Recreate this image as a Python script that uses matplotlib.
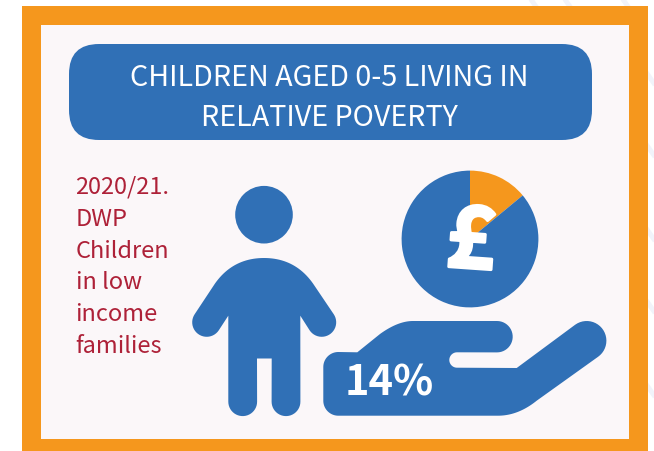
import numpy as np
import matplotlib
matplotlib.use("Agg")
import matplotlib.pyplot as plt
import matplotlib.patheffects as pe
from matplotlib.patches import Rectangle, FancyBboxPatch, Circle, Polygon

BLUE = '#3070b6'
ORANGE = '#f5971d'
RED = '#ae2138'
PAPER = '#fbf7f9'
FAINT = '#f1f3fa'
FONT = ['Noto Sans CJK SC', 'DejaVu Sans']

title_lines = ["CHILDREN AGED 0-5 LIVING IN", "RELATIVE POVERTY"]
source_lines = ["2020/21.", "DWP", "Children", "in low", "income", "families"]
poverty_pct = 14
other_pct = 100 - poverty_pct


def arc(cx, cy, r, a0, a1, n=24):
    # angles in degrees, measured clockwise on screen because y runs down
    t = np.radians(np.linspace(a0, a1, n))
    return np.column_stack([cx + r*np.cos(t), cy + r*np.sin(t)])


def bez(p0, p1, p2, n=24):
    t = np.linspace(0, 1, n)[:, None]
    return (1-t)**2*np.array(p0) + 2*t*(1-t)*np.array(p1) + t**2*np.array(p2)


def outline(*parts):
    return np.vstack([np.atleast_2d(p) for p in parts])


fig = plt.figure(figsize=(6.54, 4.51), dpi=100, facecolor='white')
ax = fig.add_axes([0, 0, 1, 1])

# pale diagonal strokes of the page behind the frame
for x0, y0 in [(530, -2), (564, -2), (622, -2), (646, 72), (646, 144), (646, 228), (646, 300), (646, 384)]:
    ax.plot([x0, x0 + 14], [y0, y0 + 20], color=FAINT, lw=3.5, solid_capstyle='butt', zorder=0)

# orange frame and inner panel
ax.add_patch(Rectangle((22, 6), 626, 445, fc=ORANGE, ec='none', zorder=1))
ax.add_patch(Rectangle((40.5, 25), 588.5, 413.5, fc=PAPER, ec='none', zorder=1))

# heading
ax.add_patch(FancyBboxPatch((99, 74), 463, 36, boxstyle='round,pad=30,rounding_size=30',
                            fc=BLUE, ec='none'))
for txt, y in zip(title_lines, (74, 115)):
    ax.text(329, y, txt, color='white', fontsize=20.7, family=FONT,
            ha='center', va='center_baseline')

for i, txt in enumerate(source_lines):
    ax.text(75.5, 185 + i*31.8, txt, color=RED, fontsize=17, family=FONT,
            ha='left', va='center_baseline')

# child figure
ax.add_patch(Circle((264, 214.7), 28.8, fc=BLUE, ec='none'))
body = outline(
    bez((264, 258), (233, 258), (215, 283.5)),
    arc(206.7, 322.3, 14.5, 213.7, 33.7),
    (228.3, 315.7),
    arc(242.7, 401.7, 14.4, 180, 0),
    (257, 358.5), (271.7, 358.5),
    arc(286, 401.7, 14.4, 180, 0),
    (300.3, 315.7),
    arc(321.7, 322.3, 14.5, 146.3, -33.7),
    bez((313, 283.5), (295, 258), (264, 258)),
)
ax.add_patch(Polygon(body, closed=True, fc=BLUE, ec='none'))

# open hand under the coin
hand = outline(
    arc(338.3, 367, 15, 180, 270),
    (357.3, 352.3),
    bez((380, 334), (398, 321), (413, 321)),
    arc(497, 336.7, 15.7, -90, 90),
    arc(457, 360, 7.7, 270, 90),
    (516.7, 368),
    arc(586.7, 340.7, 19.7, -125.6, 54.4),
    bez((536.7, 400.7), (518, 415.7), (498, 415.7)),
    arc(338.3, 400.7, 15, 90, 180),
)
ax.add_patch(Polygon(hand, closed=True, fc=BLUE, ec='none'))
ax.text(389, 379, f"{poverty_pct}%", color='white', fontsize=30, fontweight='bold',
        family=FONT, ha='center', va='center_baseline')

# pie, y axis runs downward so the start angle is 270
ax.pie([poverty_pct, other_pct], colors=[ORANGE, BLUE], startangle=270, counterclock=True,
       center=(470, 239), radius=68.4, wedgeprops={'linewidth': 0})
ax.text(471, 243, "£", color='white', fontsize=62, fontweight='bold',
        family=FONT, ha='center', va='center', rotation=-4,
        path_effects=[pe.withStroke(linewidth=2, foreground='white')])

ax.set_aspect('auto')
ax.set_xlim(0, 654)
ax.set_ylim(451, 0)
ax.axis('off')

fig.savefig('out.png', dpi=100)
